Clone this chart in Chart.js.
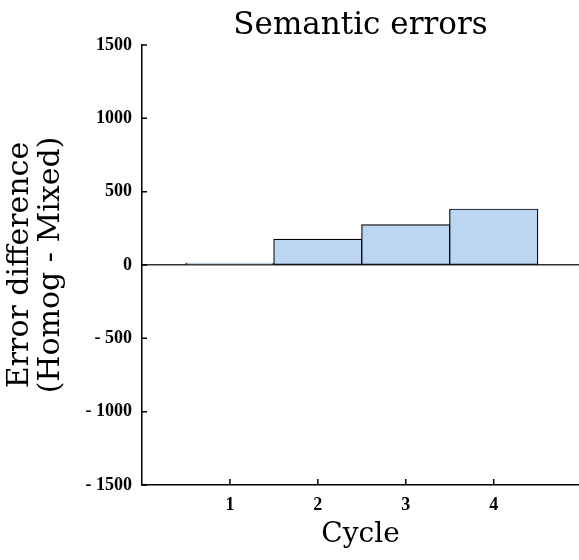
<!DOCTYPE html>
<html>
<head>
<meta charset="utf-8">
<script src="https://cdn.jsdelivr.net/npm/chart.js@4/dist/chart.umd.min.js"></script>
<style>
  html, body { margin: 0; padding: 0; background: #fff; }
  #wrap { width: 579px; height: 560px; }
</style>
</head>
<body>
<div id="wrap"><canvas id="grafico" width="579" height="560"></canvas></div>
<script>
const ciclos = [1, 2, 3, 4];
const diferencas = [12, 175, 273, 380];
const yTicks = [-1500, -1000, -500, 0, 500, 1000, 1500];

const serif = "'DejaVu Serif', 'Liberation Serif', serif";
const tickFont = { family: "'Liberation Serif', serif", size: 18, weight: 'bold' };

// short inward tick marks on both axes
const marcasInternas = {
  id: 'marcasInternas',
  afterDraw(chart) {
    const ctx = chart.ctx;
    const x = chart.scales.x, y = chart.scales.y;
    ctx.save();
    ctx.strokeStyle = '#000';
    ctx.lineWidth = 1.5;
    ctx.beginPath();
    yTicks.forEach(v => {
      const py = y.getPixelForValue(v);
      ctx.moveTo(x.left, py);
      ctx.lineTo(x.left + 5, py);
    });
    ciclos.forEach(c => {
      const px = x.getPixelForValue(c);
      ctx.moveTo(px, y.bottom);
      ctx.lineTo(px, y.bottom - 6);
    });
    ctx.stroke();
    ctx.restore();
  }
};

new Chart(document.getElementById('grafico').getContext('2d'), {
  type: 'bar',
  data: {
    datasets: [{
      xAxisID: 'x',
      yAxisID: 'y',
      data: ciclos.map((c, i) => ({ x: c, y: diferencas[i] })),
      backgroundColor: '#bcd6f2',
      borderColor: '#000',
      borderWidth: 1.2,
      borderSkipped: false,
      inflateAmount: 0.6,
      barPercentage: 1,
      categoryPercentage: 1
    }]
  },
  options: {
    responsive: false,
    animation: false,
    layout: { padding: { left: 0, right: 0, top: 3, bottom: 4 } },
    plugins: {
      legend: { display: false },
      tooltip: { enabled: false }
    },
    scales: {
      x: {
        type: 'linear',
        offset: false,
        min: 0,
        max: 4.97,
        afterBuildTicks: s => { s.ticks = ciclos.map(v => ({ value: v })); },
        afterFit: s => { s.height = 71; },
        grid: { display: false, drawTicks: false, offset: false },
        border: { display: true, color: '#000', width: 1.5 },
        ticks: { color: '#000', font: tickFont, padding: 10, maxRotation: 0 },
        title: {
          display: true,
          text: 'Cycle',
          color: '#000',
          font: { family: serif, size: 28, lineHeight: 1.2 }
        }
      },
      y: {
        min: -1500,
        max: 1500,
        afterBuildTicks: s => { s.ticks = yTicks.map(v => ({ value: v })); },
        afterFit: s => { s.width = 142; },
        grid: {
          drawTicks: false,
          color: c => c.tick && c.tick.value === 0 ? '#333' : 'rgba(0,0,0,0)',
          lineWidth: 1.5
        },
        border: { display: true, color: '#000', width: 1.5 },
        ticks: {
          color: '#000',
          font: tickFont,
          padding: 10,
          callback: v => v < 0 ? '- ' + Math.abs(v) : String(v)
        },
        title: {
          display: true,
          text: ['Error difference', '(Homog - Mixed)'],
          color: '#000',
          font: { family: serif, size: 30, lineHeight: 1.05 }
        }
      },
      // top axis only carries the heading, centred over the plot
      titulo: {
        type: 'linear',
        position: 'top',
        min: 0,
        max: 1,
        afterFit: s => { s.height = 42; },
        grid: { display: false, drawTicks: false },
        border: { display: false },
        ticks: { display: false },
        title: {
          display: true,
          text: 'Semantic errors',
          color: '#000',
          font: { family: serif, size: 31, weight: 'normal', lineHeight: 1.2 }
        }
      }
    }
  },
  plugins: [marcasInternas]
});
</script>
</body>
</html>
